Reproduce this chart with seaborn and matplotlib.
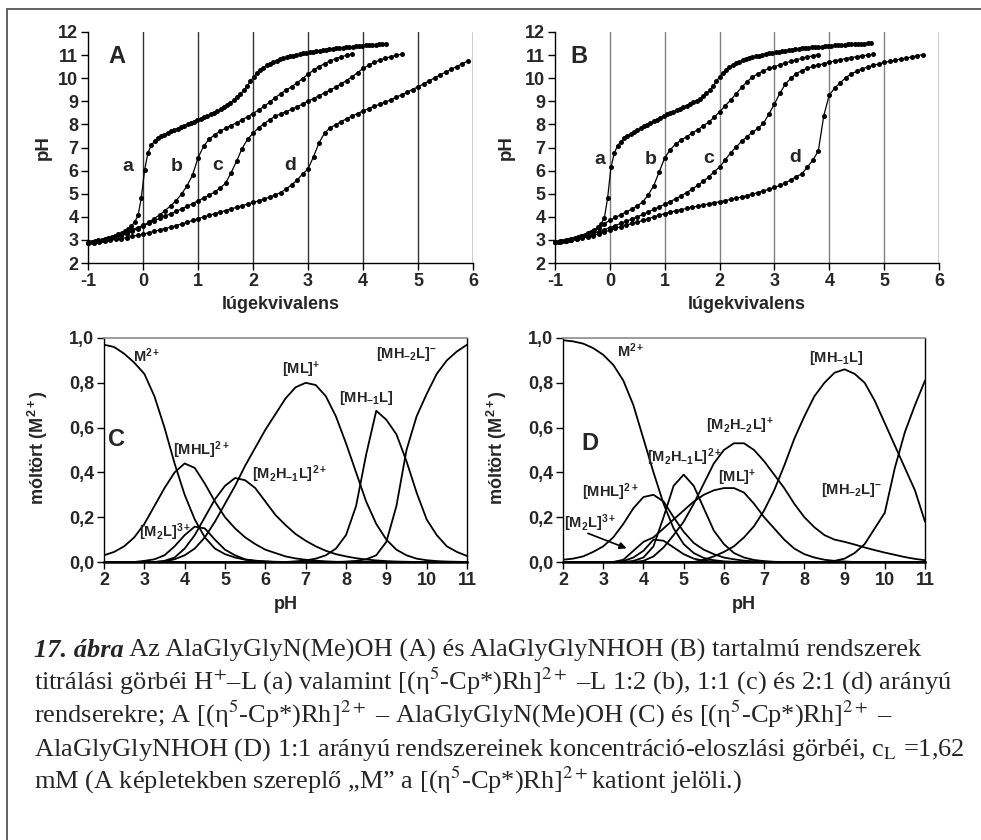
import numpy as np
import matplotlib
matplotlib.use("Agg")
import matplotlib.pyplot as plt
import seaborn as sns
from matplotlib.patches import Rectangle
from matplotlib.ticker import FuncFormatter

# titration curves: first x (lugekvivalens), step, pH values
A_a_x0, A_a_step = -0.99, 0.06
A_a = [2.90, 2.92, 2.95, 2.98, 3.01, 3.05, 3.09, 3.13, 3.18, 3.24, 3.31, 3.39, 3.48, 3.60, 3.78, 4.06, 4.83,
       6.04, 6.77, 7.10, 7.27, 7.39, 7.48, 7.56, 7.63, 7.70, 7.76, 7.82, 7.88, 7.94, 8.00, 8.06, 8.12, 8.18,
       8.24, 8.30, 8.36, 8.43, 8.50, 8.58, 8.66, 8.75, 8.84, 8.94, 9.05, 9.17, 9.31, 9.47, 9.65, 9.86, 10.05,
       10.22, 10.35, 10.46, 10.55, 10.63, 10.70, 10.76, 10.81, 10.86, 10.90, 10.94, 10.98, 11.01, 11.04, 11.07,
       11.10, 11.12, 11.15, 11.17, 11.19, 11.21, 11.23, 11.25, 11.27, 11.29, 11.30, 11.32, 11.33, 11.35, 11.36,
       11.38, 11.39, 11.40, 11.42, 11.43, 11.44, 11.45, 11.46, 11.47, 11.48]
A_b = [2.88, 2.92, 2.96, 3.01, 3.07, 3.13, 3.21, 3.32, 3.44, 3.53, 3.63, 3.76, 3.92, 4.08, 4.27, 4.47, 4.70,
       4.98, 5.34, 5.80, 6.55, 7.05, 7.35, 7.55, 7.70, 7.83, 7.95, 8.07, 8.20, 8.33, 8.47, 8.62, 8.78, 8.96,
       9.15, 9.33, 9.48, 9.63, 9.80, 9.98, 10.17, 10.35, 10.50, 10.63, 10.74, 10.84, 10.92, 10.99, 11.05]
A_c = [2.87, 2.91, 2.95, 3.00, 3.05, 3.11, 3.18, 3.27, 3.37, 3.48, 3.60, 3.71, 3.82, 3.93, 4.03, 4.13, 4.23,
       4.34, 4.45, 4.57, 4.69, 4.81, 4.93, 5.07, 5.24, 5.45, 5.90, 6.40, 6.95, 7.35, 7.62, 7.85, 8.03, 8.20,
       8.35, 8.45, 8.55, 8.65, 8.76, 8.88, 9.00, 9.12, 9.24, 9.36, 9.48, 9.61, 9.75, 9.90, 10.06, 10.24, 10.42,
       10.56, 10.68, 10.78, 10.86, 10.93, 10.99, 11.04]
A_d = [2.85, 2.88, 2.91, 2.94, 2.98, 3.02, 3.06, 3.10, 3.15, 3.20, 3.25, 3.31, 3.37, 3.43, 3.49, 3.55, 3.62,
       3.69, 3.76, 3.84, 3.92, 3.99, 4.06, 4.13, 4.20, 4.27, 4.34, 4.41, 4.48, 4.55, 4.62, 4.69, 4.77, 4.85,
       4.94, 5.05, 5.20, 5.38, 5.58, 5.85, 6.07, 6.60, 7.20, 7.62, 7.85, 7.98, 8.12, 8.24, 8.36, 8.47, 8.58,
       8.68, 8.78, 8.87, 8.96, 9.06, 9.17, 9.28, 9.39, 9.51, 9.63, 9.75, 9.88, 10.01, 10.14, 10.26, 10.38,
       10.50, 10.62, 10.74]

B_a_x0, B_a_step = -1.00, 0.06
B_a = [2.90, 2.92, 2.94, 2.97, 3.00, 3.04, 3.08, 3.12, 3.17, 3.22, 3.28, 3.35, 3.44, 3.55, 3.70, 3.95, 4.83,
       6.14, 6.75, 7.08, 7.25, 7.40, 7.50, 7.58, 7.67, 7.75, 7.83, 7.91, 7.99, 8.06, 8.13, 8.21, 8.28, 8.36,
       8.43, 8.49, 8.55, 8.61, 8.67, 8.74, 8.81, 8.88, 8.95, 9.03, 9.12, 9.22, 9.34, 9.48, 9.65, 9.86, 10.06,
       10.22, 10.36, 10.47, 10.56, 10.64, 10.71, 10.77, 10.82, 10.87, 10.91, 10.95, 10.98, 11.01, 11.04, 11.07,
       11.10, 11.12, 11.15, 11.17, 11.19, 11.21, 11.23, 11.25, 11.27, 11.29, 11.30, 11.32, 11.33, 11.35, 11.36,
       11.37, 11.39, 11.40, 11.41, 11.42, 11.43, 11.44, 11.45, 11.46, 11.47, 11.48, 11.49, 11.50, 11.50, 11.51,
       11.52]
B_b = [2.90, 2.94, 2.98, 3.03, 3.09, 3.16, 3.25, 3.37, 3.52, 3.70, 3.85, 3.97, 4.09, 4.21, 4.34, 4.47, 4.65,
       4.95, 5.35, 5.95, 6.55, 6.90, 7.15, 7.32, 7.47, 7.62, 7.77, 7.93, 8.10, 8.30, 8.55, 8.80, 9.05, 9.32,
       9.60, 9.85, 10.05, 10.20, 10.32, 10.42, 10.50, 10.58, 10.66, 10.73, 10.80, 10.86, 10.92, 10.97, 11.02]
B_c = [2.90, 2.93, 2.97, 3.01, 3.06, 3.12, 3.19, 3.27, 3.35, 3.44, 3.53, 3.62, 3.72, 3.81, 3.90, 4.00, 4.10,
       4.21, 4.32, 4.43, 4.54, 4.66, 4.78, 4.91, 5.05, 5.20, 5.36, 5.53, 5.72, 5.95, 6.15, 6.46, 6.76, 7.02,
       7.26, 7.47, 7.66, 7.83, 8.05, 8.45, 8.88, 9.35, 9.75, 10.00, 10.20, 10.33, 10.43, 10.51, 10.57, 10.63,
       10.69, 10.75, 10.80, 10.85, 10.89, 10.93, 10.97, 11.00, 11.04]
B_d = [2.90, 2.93, 2.96, 3.00, 3.04, 3.08, 3.13, 3.19, 3.26, 3.34, 3.42, 3.50, 3.57, 3.64, 3.71, 3.77, 3.84,
       3.92, 3.99, 4.07, 4.14, 4.20, 4.26, 4.31, 4.36, 4.41, 4.46, 4.51, 4.56, 4.61, 4.65, 4.70, 4.75, 4.80,
       4.86, 4.92, 4.98, 5.05, 5.12, 5.19, 5.27, 5.36, 5.47, 5.60, 5.74, 5.86, 6.15, 6.45, 6.85, 8.38, 9.27,
       9.58, 9.80, 10.03, 10.18, 10.30, 10.40, 10.48, 10.55, 10.62, 10.68, 10.73, 10.78, 10.83, 10.87, 10.92,
       10.97, 11.02]
step_bcd = 0.1

# distribution curves, pH 2 .. 11 every 0.25
pH_grid = [2.0, 2.25, 2.5, 2.75, 3.0, 3.25, 3.5, 3.75, 4.0, 4.25, 4.5, 4.75, 5.0, 5.25, 5.5, 5.75, 6.0, 6.25,
           6.5, 6.75, 7.0, 7.25, 7.5, 7.75, 8.0, 8.25, 8.5, 8.75, 9.0, 9.25, 9.5, 9.75, 10.0, 10.25, 10.5,
           10.75, 11.0]
C_M = [0.97, 0.96, 0.93, 0.89, 0.84, 0.74, 0.60, 0.44, 0.30, 0.19, 0.11, 0.06, 0.035, 0.02, 0.01, 0.006,
       0.003, 0.001] + [0] * 19
C_MHL = [0.03, 0.045, 0.07, 0.11, 0.17, 0.25, 0.33, 0.40, 0.44, 0.42, 0.35, 0.27, 0.20, 0.15, 0.11, 0.08,
         0.055, 0.04, 0.025, 0.016, 0.01, 0.006, 0.003, 0.001] + [0] * 13
C_M2L = [0, 0, 0, 0, 0.005, 0.012, 0.03, 0.07, 0.12, 0.158, 0.15, 0.10, 0.055, 0.03, 0.012, 0.005, 0.002] + [0] * 20
C_M2H1L = [0, 0, 0, 0, 0, 0, 0.005, 0.02, 0.06, 0.12, 0.20, 0.28, 0.34, 0.375, 0.365, 0.33, 0.27, 0.21, 0.165,
           0.125, 0.095, 0.07, 0.05, 0.035, 0.025, 0.017, 0.011, 0.007, 0.004, 0.002, 0.001] + [0] * 6
C_ML = [0, 0, 0, 0, 0, 0, 0.003, 0.012, 0.03, 0.06, 0.11, 0.18, 0.26, 0.34, 0.43, 0.51, 0.59, 0.66, 0.73, 0.78,
        0.80, 0.79, 0.74, 0.65, 0.53, 0.40, 0.27, 0.17, 0.10, 0.055, 0.03, 0.015, 0.008, 0.004, 0.002, 0.001, 0]
C_MH1L = [0] * 19 + [0.003, 0.007, 0.015, 0.03, 0.06, 0.12, 0.25, 0.48, 0.675, 0.635, 0.57, 0.45, 0.31, 0.19,
                     0.12, 0.07, 0.045, 0.027]
C_MH2L = [0] * 24 + [0.002, 0.005, 0.012, 0.03, 0.09, 0.25, 0.50, 0.65, 0.75, 0.84, 0.90, 0.94, 0.97]

D_M = [0.99, 0.985, 0.975, 0.955, 0.925, 0.88, 0.81, 0.70, 0.55, 0.40, 0.26, 0.15, 0.08, 0.04, 0.018, 0.008,
       0.003, 0.001] + [0] * 19
D_MHL = [0.01, 0.015, 0.025, 0.045, 0.07, 0.11, 0.17, 0.24, 0.29, 0.30, 0.27, 0.20, 0.135, 0.085, 0.055, 0.035,
         0.02, 0.012, 0.006, 0.003, 0.001] + [0] * 16
D_M2L = [0, 0, 0, 0, 0, 0, 0.004, 0.02, 0.05, 0.10, 0.095, 0.065, 0.035, 0.015, 0.006, 0.002] + [0] * 21
D_M2H1L = [0, 0, 0, 0, 0, 0, 0, 0.005, 0.02, 0.07, 0.20, 0.34, 0.39, 0.34, 0.24, 0.14, 0.08, 0.04, 0.02, 0.009,
           0.004, 0.001] + [0] * 15
D_M2H2L = [0] * 8 + [0.005, 0.025, 0.065, 0.12, 0.18, 0.26, 0.35, 0.44, 0.50, 0.53, 0.53, 0.50, 0.45, 0.39, 0.33,
                    0.26, 0.20, 0.155, 0.12, 0.10, 0.09, 0.078, 0.065, 0.053, 0.042, 0.032, 0.022, 0.014, 0.008]
D_ML = [0, 0, 0, 0, 0, 0, 0.01, 0.05, 0.09, 0.11, 0.15, 0.19, 0.23, 0.27, 0.30, 0.32, 0.33, 0.33, 0.31, 0.26,
        0.20, 0.15, 0.10, 0.06, 0.035, 0.02, 0.01, 0.005, 0.002] + [0] * 8
D_MH1L = [0] * 14 + [0.01, 0.025, 0.045, 0.07, 0.11, 0.16, 0.23, 0.32, 0.43, 0.55, 0.65, 0.74, 0.80, 0.845, 0.86,
                     0.84, 0.80, 0.72, 0.62, 0.52, 0.42, 0.32, 0.18]
D_MH2L = [0] * 27 + [0.005, 0.015, 0.04, 0.08, 0.15, 0.22, 0.42, 0.58, 0.70, 0.81]

# species labels (text, pH, fraction)
C_labels = [("M$^{2+}$", 3.06, 0.92), ("[MHL]$^{2+}$", 4.42, 0.497), ("[M$_2$L]$^{3+}$", 3.51, 0.135),
            ("[M$_2$H$_{-1}$L]$^{2+}$", 6.61, 0.393), ("[ML]$^{+}$", 6.9, 0.857),
            ("[MH$_{-1}$L]", 8.51, 0.733), ("[MH$_{-2}$L]$^{-}$", 9.5, 0.93)]
D_labels = [("M$^{2+}$", 3.67, 0.943), ("[MH$_{-1}$L]", 8.8, 0.91), ("[M$_2$H$_{-2}$L]$^{+}$", 6.4, 0.61),
            ("[M$_2$H$_{-1}$L]$^{2+}$", 5.03, 0.47), ("[ML]$^{+}$", 6.32, 0.374), ("[MHL]$^{2+}$", 3.17, 0.311),
            ("[MH$_{-2}$L]$^{-}$", 9.18, 0.32), ("[M$_2$L]$^{3+}$", 2.68, 0.173)]

caption = [
    "titrálási görbéi H$^{+}$–L (a) valamint [(η$^{5}$-Cp*)Rh]$^{2+}$ –L 1:2 (b), 1:1 (c) és 2:1 (d) arányú",
    "rendserekre; A [(η$^{5}$-Cp*)Rh]$^{2+}$ – AlaGlyGlyN(Me)OH (C) és [(η$^{5}$-Cp*)Rh]$^{2+}$ –",
    "AlaGlyGlyNHOH (D) 1:1 arányú rendszereinek koncentráció-eloszlási görbéi, c$_{\\mathrm{L}}$ =1,62",
    "mM (A képletekben szereplő „M” a [(η$^{5}$-Cp*)Rh]$^{2+}$kationt jelöli.)",
]

sns.set_theme(style="ticks")
plt.rcParams["font.family"] = ["Liberation Sans", "DejaVu Sans"]
plt.rcParams["axes.labelweight"] = "bold"
plt.rcParams["axes.unicode_minus"] = False
plt.rcParams["mathtext.fontset"] = "custom"
plt.rcParams["mathtext.rm"] = "Liberation Sans:bold"
plt.rcParams["mathtext.it"] = "Liberation Sans:bold"
plt.rcParams["mathtext.bf"] = "Liberation Sans:bold"
plt.rcParams["mathtext.default"] = "rm"

W, H = 981, 840
fig = plt.figure(figsize=(W / 100, H / 100), dpi=100)


def box(l, r, t, b):
    return [l / W, 1 - b / H, (r - l) / W, (b - t) / H]


fig.add_artist(Rectangle((6.5 / W, -0.05), 1.2, 1.05 - 9 / H, transform=fig.transFigure,
                         fill=False, lw=1.3, ec="#555555"))


def bold_ticks(ax, size):
    ax.tick_params(direction="out", length=5, width=1, color="black", labelsize=size, pad=2)
    plt.setp(ax.get_xticklabels() + ax.get_yticklabels(), fontweight="bold")


def titration(ax, curves, letter, lpos, names, gridcol, ylab_x):
    ax.set_xlim(-1, 6)
    ax.set_ylim(2, 12)
    for g in range(0, 7):
        ax.axvline(g, color=gridcol if g < 6 else "black", lw=1.0, zorder=0)
    for x0, step, ph in curves:
        xs = x0 + step * np.arange(len(ph))
        sns.lineplot(x=xs, y=ph, ax=ax, color="black", lw=0.9, marker="o", markersize=3.6,
                     markeredgewidth=0, sort=False, estimator=None, clip_on=False)
    ax.set_xticks(range(-1, 7))
    ax.set_yticks(range(2, 13))
    sns.despine(ax=ax)
    for s in ["left", "bottom"]:
        ax.spines[s].set_color("black")
        ax.spines[s].set_linewidth(1.0)
    bold_ticks(ax, 13)
    ax.set_xlabel("lúgekvivalens", fontsize=13, fontweight="bold")
    ax.set_ylabel("pH", fontsize=13.5, fontweight="bold")
    ax.xaxis.set_label_coords(0.5, -0.145)
    ax.yaxis.set_label_coords(ylab_x, 0.5)
    ax.text(lpos[0], lpos[1], letter, fontsize=17, fontweight="bold", ha="center", va="center")
    for t, (x, y) in names.items():
        ax.text(x, y, t, fontsize=14, fontweight="bold", ha="center", va="center")


axA = fig.add_axes(box(88, 473, 32, 263))
titration(axA, [(A_a_x0, A_a_step, A_a), (-1.0, step_bcd, A_b), (-1.0, step_bcd, A_c), (-1.0, step_bcd, A_d)],
          "A", (-0.47, 10.96), {"a": (-0.27, 6.17), "b": (0.61, 6.17), "c": (1.35, 6.2), "d": (2.67, 6.2)},
          "#333333", -0.094)
axB = fig.add_axes(box(555, 939, 32, 263))
titration(axB, [(B_a_x0, B_a_step, B_a), (-1.0, step_bcd, B_b), (-1.0, step_bcd, B_c), (-1.0, step_bcd, B_d)],
          "B", (-0.56, 10.96), {"a": (-0.18, 6.49), "b": (0.75, 6.49), "c": (1.81, 6.52), "d": (3.38, 6.55)},
          "#808080", -0.104)


def distribution(ax, series, labels, letter, lpos):
    ax.set_xlim(2, 11)
    ax.set_ylim(0, 1)
    for ys in series:
        sns.lineplot(x=pH_grid, y=ys, ax=ax, color="black", lw=1.3, sort=False, estimator=None)
    ax.set_xticks(range(2, 12))
    ax.set_yticks([0, 0.2, 0.4, 0.6, 0.8, 1.0])
    ax.yaxis.set_major_formatter(FuncFormatter(lambda v, p: f"{v:.1f}".replace(".", ",")))
    for s in ["left", "right", "bottom"]:
        ax.spines[s].set_color("black")
        ax.spines[s].set_linewidth(1.0)
    ax.spines["bottom"].set_linewidth(1.8)
    ax.spines["top"].set_color("#8c8c8c")
    ax.spines["top"].set_linewidth(1.2)
    bold_ticks(ax, 13)
    ax.set_xlabel("pH", fontsize=13, fontweight="bold")
    ax.set_ylabel("móltört (M$^{2+}$)", fontsize=13, fontweight="bold")
    ax.xaxis.set_label_coords(0.5, -0.15)
    ax.yaxis.set_label_coords(-0.15, 0.51)
    ax.text(lpos[0], lpos[1], letter, fontsize=17, fontweight="bold", ha="center", va="center")
    for t, x, y in labels:
        ax.text(x, y, t, fontsize=10.5, fontweight="bold", ha="center", va="center")


axC = fig.add_axes(box(104, 467, 338, 562))
distribution(axC, [C_M, C_MHL, C_M2L, C_M2H1L, C_ML, C_MH1L, C_MH2L], C_labels, "C", (2.31, 0.545))
axD = fig.add_axes(box(563, 925, 338, 562))
distribution(axD, [D_M, D_MHL, D_M2L, D_M2H1L, D_M2H2L, D_ML, D_MH1L, D_MH2L], D_labels, "D", (2.67, 0.53))
axD.annotate("", xy=(3.58, 0.061), xytext=(2.62, 0.128),
             arrowprops=dict(arrowstyle="-|>", color="black", lw=1.2, mutation_scale=10, shrinkA=0, shrinkB=0))

# caption
cap_size = 19
cap_x = 34
base = [657, 690, 723, 756, 789]
t1 = fig.text(cap_x / W, 1 - base[0] / H, "17. ábra", family="Liberation Serif", style="italic",
              weight="bold", fontsize=cap_size, va="baseline")
r = fig.canvas.get_renderer()
x1 = t1.get_window_extent(r).x1 / W
fig.text(x1, 1 - base[0] / H, " Az AlaGlyGlyN(Me)OH (A) és AlaGlyGlyNHOH (B) tartalmú rendszerek",
         family="Liberation Serif", weight="normal", fontsize=cap_size, va="baseline")
for line, yb in zip(caption, base[1:]):
    fig.text(cap_x / W, 1 - yb / H, line, family="Liberation Serif", weight="normal", fontsize=cap_size,
             va="baseline", math_fontfamily="stix")

fig.savefig("out.png", dpi=100)
